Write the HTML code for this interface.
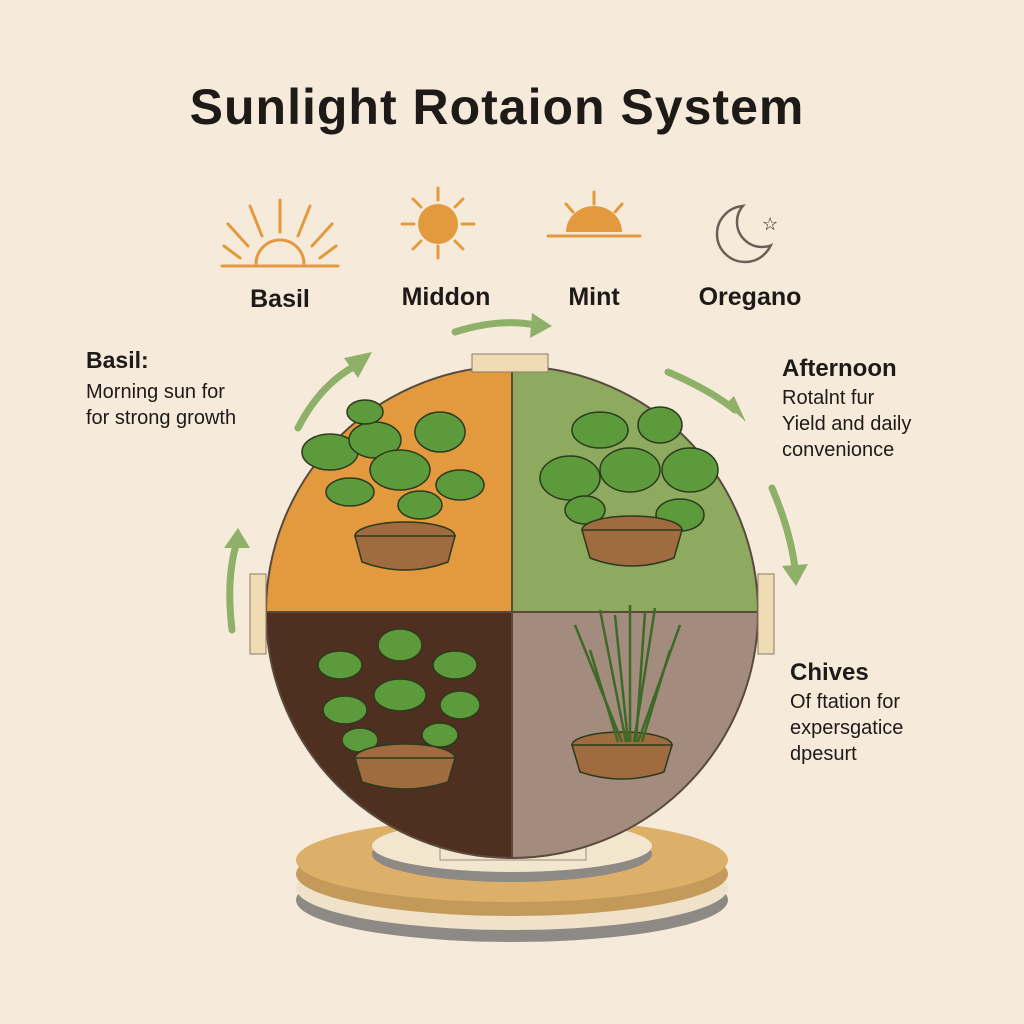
<!DOCTYPE html>
<html><head><style>
body{margin:0;background:#f6ebdb;}
svg{display:block}
text{font-family:"Liberation Sans",sans-serif;fill:#1e1a17}
</style></head><body>
<svg width="1024" height="1024" viewBox="0 0 1024 1024">
<rect width="1024" height="1024" fill="#f6ebdb"/>
<text x="497" y="124" font-size="50" font-weight="bold" text-anchor="middle" letter-spacing="1">Sunlight Rotaion System</text>
<!-- icons -->
<g stroke="#e39a3e" stroke-width="3" fill="none" stroke-linecap="round">
<line x1="222" y1="266" x2="338" y2="266"/>
<path d="M256 264 A24 24 0 0 1 304 264"/>
<line x1="280" y1="232" x2="280" y2="200"/><line x1="262" y1="236" x2="250" y2="206"/><line x1="298" y1="236" x2="310" y2="206"/>
<line x1="248" y1="246" x2="228" y2="224"/><line x1="312" y1="246" x2="332" y2="224"/><line x1="240" y1="258" x2="224" y2="246"/><line x1="320" y1="258" x2="336" y2="246"/>
<line x1="438" y1="188" x2="438" y2="200"/><line x1="438" y1="258" x2="438" y2="246"/><line x1="402" y1="224" x2="414" y2="224"/><line x1="474" y1="224" x2="462" y2="224"/>
<line x1="413" y1="199" x2="421" y2="207"/><line x1="463" y1="199" x2="455" y2="207"/><line x1="413" y1="249" x2="421" y2="241"/><line x1="463" y1="249" x2="455" y2="241"/>
<line x1="548" y1="236" x2="640" y2="236"/><line x1="594" y1="192" x2="594" y2="204"/><line x1="566" y1="204" x2="573" y2="212"/><line x1="622" y1="204" x2="615" y2="212"/>
</g>
<circle cx="438" cy="224" r="20" fill="#e39a3e"/>
<path d="M566 232 A28 26 0 0 1 622 232 Z" fill="#e39a3e"/>
<clipPath id="moon"><circle cx="745" cy="234" r="29.5"/></clipPath>
<circle cx="745" cy="234" r="28" fill="none" stroke="#6b5f58" stroke-width="2.5"/>
<circle cx="762" cy="222" r="25" fill="#f6ebdb" stroke="#6b5f58" stroke-width="2.5" clip-path="url(#moon)"/>
<text x="762" y="230" font-size="18" fill="#6b5f58">☆</text>
<text x="280" y="307" font-size="25" font-weight="bold" text-anchor="middle">Basil</text>
<text x="446" y="305" font-size="25" font-weight="bold" text-anchor="middle">Middon</text>
<text x="594" y="305" font-size="25" font-weight="bold" text-anchor="middle">Mint</text>
<text x="750" y="305" font-size="25" font-weight="bold" text-anchor="middle">Oregano</text>
<!-- side texts -->
<text x="86" y="368" font-size="23" font-weight="bold">Basil:</text>
<text x="86" y="398" font-size="20">Morning sun for</text>
<text x="86" y="424" font-size="20">for strong growth</text>
<text x="782" y="376" font-size="24" font-weight="bold">Afternoon</text>
<text x="782" y="404" font-size="20">Rotalnt fur</text>
<text x="782" y="430" font-size="20">Yield and daily</text>
<text x="782" y="456" font-size="20">convenionce</text>
<text x="790" y="680" font-size="24" font-weight="bold">Chives</text>
<text x="790" y="708" font-size="20">Of ftation for</text>
<text x="790" y="734" font-size="20">expersgatice</text>
<text x="790" y="760" font-size="20">dpesurt</text>
<!-- arrows -->
<g fill="none" stroke="#8fb068" stroke-width="7" stroke-linecap="round">
<path d="M232 630 Q226 580 236 545"/>
<path d="M298 428 Q320 385 355 366"/>
<path d="M455 332 Q500 318 535 325"/>
<path d="M668 372 Q710 390 735 410"/>
<path d="M772 488 Q790 530 795 568"/>
</g>
<g fill="#8fb068">
<polygon points="224,548 238,528 250,548"/>
<polygon points="344,358 372,352 358,378"/>
<polygon points="532,313 552,326 530,338"/>
<polygon points="726,404 746,422 734,396"/>
<polygon points="782,566 796,586 808,564"/>
</g>
<!-- base -->
<ellipse cx="512" cy="900" rx="216" ry="42" fill="#8d8a86"/>
<ellipse cx="512" cy="888" rx="216" ry="42" fill="#f0e2c8"/>
<ellipse cx="512" cy="874" rx="216" ry="42" fill="#c49a5a"/>
<ellipse cx="512" cy="860" rx="216" ry="42" fill="#ddb06a"/>
<ellipse cx="512" cy="854" rx="140" ry="28" fill="#8d8a86"/>
<ellipse cx="512" cy="846" rx="140" ry="26" fill="#f3e6cf"/>
<rect x="440" y="818" width="146" height="42" fill="#f3e6cf" stroke="#9a8a78"/>
<!-- circle -->
<clipPath id="c"><circle cx="512" cy="612" r="246"/></clipPath>
<g clip-path="url(#c)">
<rect x="260" y="360" width="252" height="252" fill="#e39a3e"/>
<rect x="512" y="360" width="252" height="252" fill="#8daa5e"/>
<rect x="260" y="612" width="252" height="252" fill="#4f2f20"/>
<rect x="512" y="612" width="252" height="252" fill="#a38b7e"/>
</g>
<circle cx="512" cy="612" r="246" fill="none" stroke="#5a4a3e" stroke-width="2"/>
<line x1="512" y1="366" x2="512" y2="858" stroke="#5a4a3e" stroke-width="2"/>
<line x1="266" y1="612" x2="758" y2="612" stroke="#5a4a3e" stroke-width="2"/>
<rect x="472" y="354" width="76" height="18" fill="#f0dcb4" stroke="#8a7a66"/>
<rect x="250" y="574" width="16" height="80" fill="#f0dcb4" stroke="#8a7a66"/>
<rect x="758" y="574" width="16" height="80" fill="#f0dcb4" stroke="#8a7a66"/>
<!-- plants -->
<g stroke="#2c3a1e" stroke-width="1.5">
<g fill="#5d9a3c">
<ellipse cx="330" cy="452" rx="28" ry="18"/><ellipse cx="440" cy="432" rx="25" ry="20"/><ellipse cx="375" cy="440" rx="26" ry="18"/>
<ellipse cx="350" cy="492" rx="24" ry="14"/><ellipse cx="460" cy="485" rx="24" ry="15"/><ellipse cx="400" cy="470" rx="30" ry="20"/><ellipse cx="365" cy="412" rx="18" ry="12"/><ellipse cx="420" cy="505" rx="22" ry="14"/>
<ellipse cx="570" cy="478" rx="30" ry="22"/><ellipse cx="600" cy="430" rx="28" ry="18"/><ellipse cx="660" cy="425" rx="22" ry="18"/><ellipse cx="690" cy="470" rx="28" ry="22"/><ellipse cx="630" cy="470" rx="30" ry="22"/><ellipse cx="680" cy="515" rx="24" ry="16"/><ellipse cx="585" cy="510" rx="20" ry="14"/>
<ellipse cx="340" cy="665" rx="22" ry="14"/><ellipse cx="400" cy="645" rx="22" ry="16"/><ellipse cx="455" cy="665" rx="22" ry="14"/><ellipse cx="345" cy="710" rx="22" ry="14"/><ellipse cx="400" cy="695" rx="26" ry="16"/><ellipse cx="460" cy="705" rx="20" ry="14"/><ellipse cx="360" cy="740" rx="18" ry="12"/><ellipse cx="440" cy="735" rx="18" ry="12"/>
</g>
<g fill="#a06b3f">
<ellipse cx="405" cy="536" rx="50" ry="14"/><path d="M355 536 L362 562 Q405 578 448 562 L455 536 Z"/>
<ellipse cx="632" cy="530" rx="50" ry="14"/><path d="M582 530 L590 558 Q632 574 674 558 L682 530 Z"/>
<ellipse cx="405" cy="758" rx="50" ry="14"/><path d="M355 758 L362 782 Q405 796 448 782 L455 758 Z"/>
<ellipse cx="622" cy="745" rx="50" ry="13"/><path d="M572 745 L580 772 Q622 786 664 772 L672 745 Z"/>
</g>
</g>
<g stroke="#3e6a28" stroke-width="2.5" fill="none">
<path d="M622 742 L575 625"/><path d="M626 742 L600 610"/><path d="M630 742 L630 605"/><path d="M634 742 L655 608"/><path d="M638 742 L680 625"/><path d="M618 742 L590 650"/><path d="M642 742 L670 650"/><path d="M628 742 L615 615"/><path d="M636 742 L645 612"/>
</g>
</svg>
</body></html>
